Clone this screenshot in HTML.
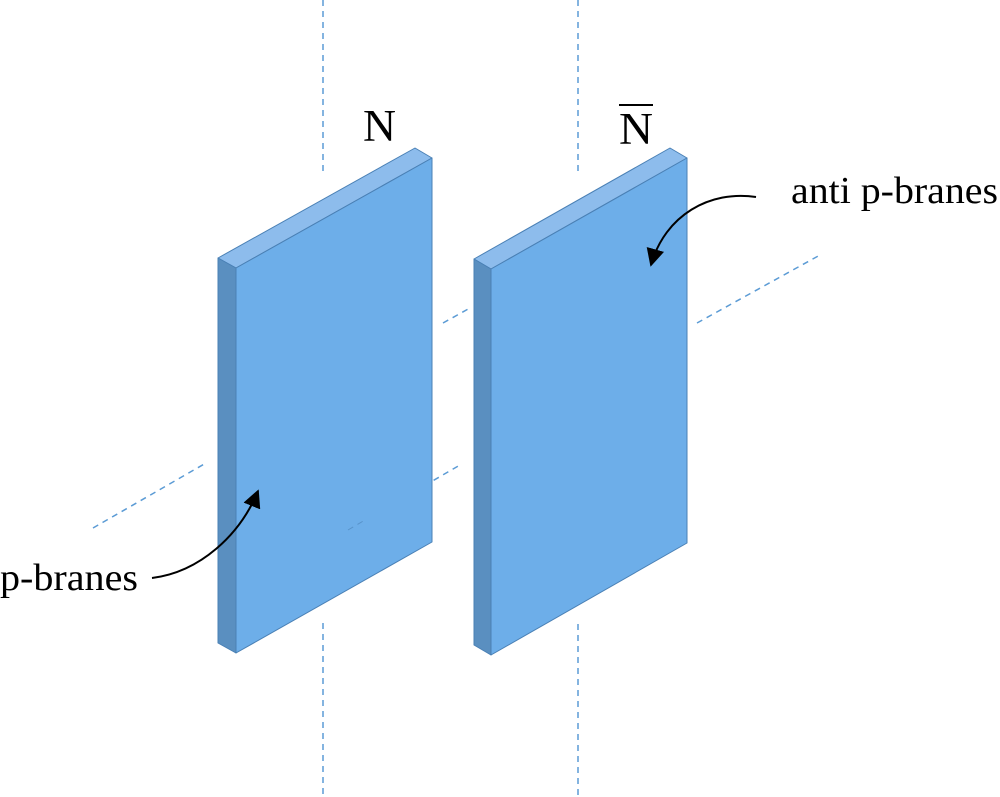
<!DOCTYPE html>
<html><head><style>body{margin:0;background:#fff}svg{display:block}</style></head><body>
<svg width="1000" height="797" viewBox="0 0 1000 797" xmlns="http://www.w3.org/2000/svg">
<defs>
<marker id="b" viewBox="0 0 10 10" markerWidth="18" markerHeight="18" refX="9" refY="5" orient="auto" markerUnits="userSpaceOnUse"><path d="M0,0 L10,5 L0,10 Z" fill="#000"/></marker></defs>
<g stroke="#5b9bd5" stroke-width="1.5" stroke-dasharray="6,5" fill="none">
<line x1="323" y1="0" x2="323" y2="172"/><line x1="323" y1="623" x2="323" y2="797"/>
<line x1="578" y1="0" x2="578" y2="174"/><line x1="578" y1="624" x2="578" y2="797"/>
<line x1="93" y1="528" x2="206" y2="463"/>
<line x1="348" y1="530" x2="460" y2="465"/>
<line x1="443" y1="323" x2="470" y2="308"/>
<line x1="697" y1="323" x2="820" y2="255"/>
</g>
<g stroke="#4a80b5" stroke-width="1" stroke-linejoin="round">
<polygon points="218,258 415,148 432,158 236,268" fill="#8dbcec"/>
<polygon points="218,258 236,268 236,653 218,643" fill="#5a8fc0"/>
<polygon points="236,268 432,158 432,542 236,653" fill="#6daee9"/>
<polygon points="474,259 670,148 687,158 491,269" fill="#8dbcec"/>
<polygon points="474,259 491,269 491,655 474,645" fill="#5a8fc0"/>
<polygon points="491,269 687,158 687,543 491,655" fill="#6daee9"/>
</g>
<line x1="348" y1="530" x2="365" y2="520" stroke="#4a80b5" stroke-width="1" stroke-dasharray="6,5" opacity="0.6"/>
<g fill="none" stroke="#000" stroke-width="2">
<path d="M756,197 C710,190 665,215 651,265" marker-end="url(#b)"/>
<path d="M152,578 C200,572 240,535 258,491" marker-end="url(#b)"/>
</g>
<g font-family="Liberation Serif, serif" fill="#000">
<text x="363" y="141" font-size="45" textLength="33" lengthAdjust="spacingAndGlyphs">N</text>
<text x="619" y="144" font-size="45" textLength="34" lengthAdjust="spacingAndGlyphs">N</text>
<line x1="619" y1="105" x2="653" y2="105" stroke="#000" stroke-width="2"/>
<text x="791" y="203" font-size="38" textLength="207" lengthAdjust="spacingAndGlyphs">anti p-branes</text>
<text x="0" y="590" font-size="38" textLength="138" lengthAdjust="spacingAndGlyphs">p-branes</text>
</g>
</svg>
</body></html>
